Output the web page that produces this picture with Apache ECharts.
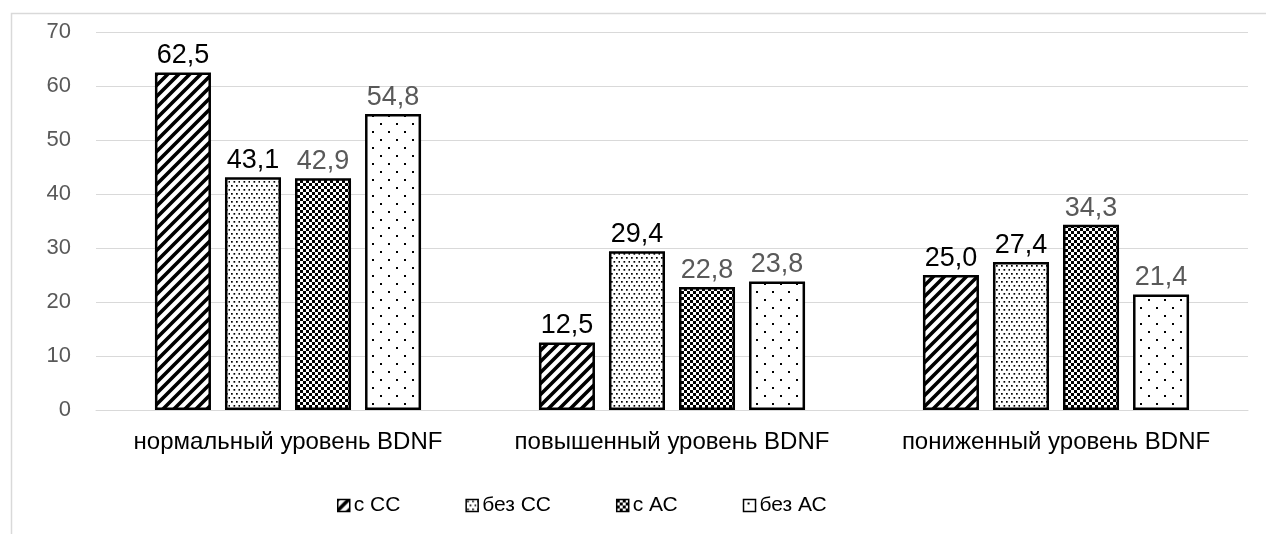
<!DOCTYPE html>
<html>
<head>
<meta charset="utf-8">
<script src="https://cdn.jsdelivr.net/npm/echarts@6/dist/echarts.min.js"></script>
<style>
  html, body { margin: 0; padding: 0; background: #fff; }
  #chart { width: 1266px; height: 534px; }
</style>
</head>
<body>
<div id="chart"></div>
<script>
// Groups along the category axis
const categories = ['нормальный уровень BDNF', 'повышенный уровень BDNF', 'пониженный уровень BDNF'];
// Series names (legend)
const seriesNames = ['с СС', 'без СС', 'с АС', 'без АС'];
// Percent values per series, one per group
const withSS = [62.5, 12.5, 25.0];
const withoutSS = [43.1, 29.4, 27.4];
const withAS = [42.9, 22.8, 34.3];
const withoutAS = [54.8, 23.8, 21.4];
// Y axis ticks
const yTicks = [0, 10, 20, 30, 40, 50, 60, 70];

const NARROW = "'Liberation Sans Narrow', 'Liberation Sans', sans-serif";
const REGULAR = "'Liberation Sans', sans-serif";

function makeTile(w, h, draw) {
  const c = document.createElement('canvas');
  c.width = w; c.height = h;
  const ctx = c.getContext('2d');
  ctx.fillStyle = '#fff';
  ctx.fillRect(0, 0, w, h);
  ctx.fillStyle = '#000';
  ctx.strokeStyle = '#000';
  draw(ctx);
  return c;
}

// wide upward diagonal stripes
const stripeTile = makeTile(11, 11, ctx => {
  ctx.lineWidth = 3.6;
  ctx.beginPath();
  for (let k = -1; k <= 1; k++) {
    ctx.moveTo(-2 + k * 11, 13);
    ctx.lineTo(13 + k * 11, -2);
  }
  ctx.stroke();
});
// dense dots
const denseDotTile = makeTile(10, 8, ctx => {
  [[1, 1], [6, 1], [3.5, 5], [8.5, 5]].forEach(p => ctx.fillRect(p[0], p[1], 1.7, 1.7));
});
// small checkerboard
const checkTile = makeTile(6, 6, ctx => {
  ctx.fillRect(0, 0, 3, 3);
  ctx.fillRect(3, 3, 3, 3);
});
// sparse dots
const sparseDotTile = makeTile(16, 16, ctx => {
  ctx.fillRect(4, 3, 2, 2);
  ctx.fillRect(12, 11, 2, 2);
});

const patterns = [stripeTile, denseDotTile, checkTile, sparseDotTile];
const values = [withSS, withoutSS, withAS, withoutAS];
const labelColors = ['#000000', '#000000', '#595959', '#595959'];

const fmt = v => v.toFixed(1).replace('.', ',');

const chart = echarts.init(document.getElementById('chart'), null, { renderer: 'canvas' });

chart.setOption({
  animation: false,
  backgroundColor: '#ffffff',
  graphic: [{
    type: 'polyline',
    shape: { points: [[11.5, 540], [11.5, 13.5], [1270, 13.5]] },
    style: { stroke: '#d9d9d9', lineWidth: 1.5, fill: null },
    silent: true
  }],
  grid: { left: 96, right: 18, top: 32, bottom: 124, containLabel: false },
  legend: {
    bottom: 13,
    left: 332,
    itemWidth: 12,
    itemHeight: 12,
    itemGap: 65,
    icon: 'rect',
    itemStyle: { borderColor: '#000', borderWidth: 1.5 },
    textStyle: { fontFamily: NARROW, fontSize: 21, color: '#000', padding: [0, 0, 0, -1] },
    data: seriesNames
  },
  xAxis: {
    type: 'category',
    data: categories,
    axisLine: { lineStyle: { color: '#d9d9d9', width: 1 } },
    axisTick: { show: false },
    axisLabel: { interval: 0, fontFamily: NARROW, fontSize: 24, color: '#000', margin: 20 }
  },
  yAxis: {
    type: 'value',
    min: yTicks[0],
    max: yTicks[yTicks.length - 1],
    interval: 10,
    axisLine: { show: false },
    axisTick: { show: false },
    splitLine: { lineStyle: { color: '#d9d9d9', width: 1 } },
    axisLabel: { fontFamily: REGULAR, fontSize: 22, color: '#595959', margin: 25 }
  },
  series: seriesNames.map((name, i) => ({
    name: name,
    type: 'bar',
    data: values[i],
    barGap: '25%',
    barCategoryGap: '30.7%',
    itemStyle: {
      color: { image: patterns[i], repeat: 'repeat' },
      borderColor: '#000',
      borderWidth: 2.5
    },
    label: {
      show: true,
      position: 'top',
      distance: 3,
      formatter: p => fmt(p.value),
      fontFamily: REGULAR,
      fontSize: 27,
      color: labelColors[i]
    }
  }))
});
</script>
</body>
</html>
